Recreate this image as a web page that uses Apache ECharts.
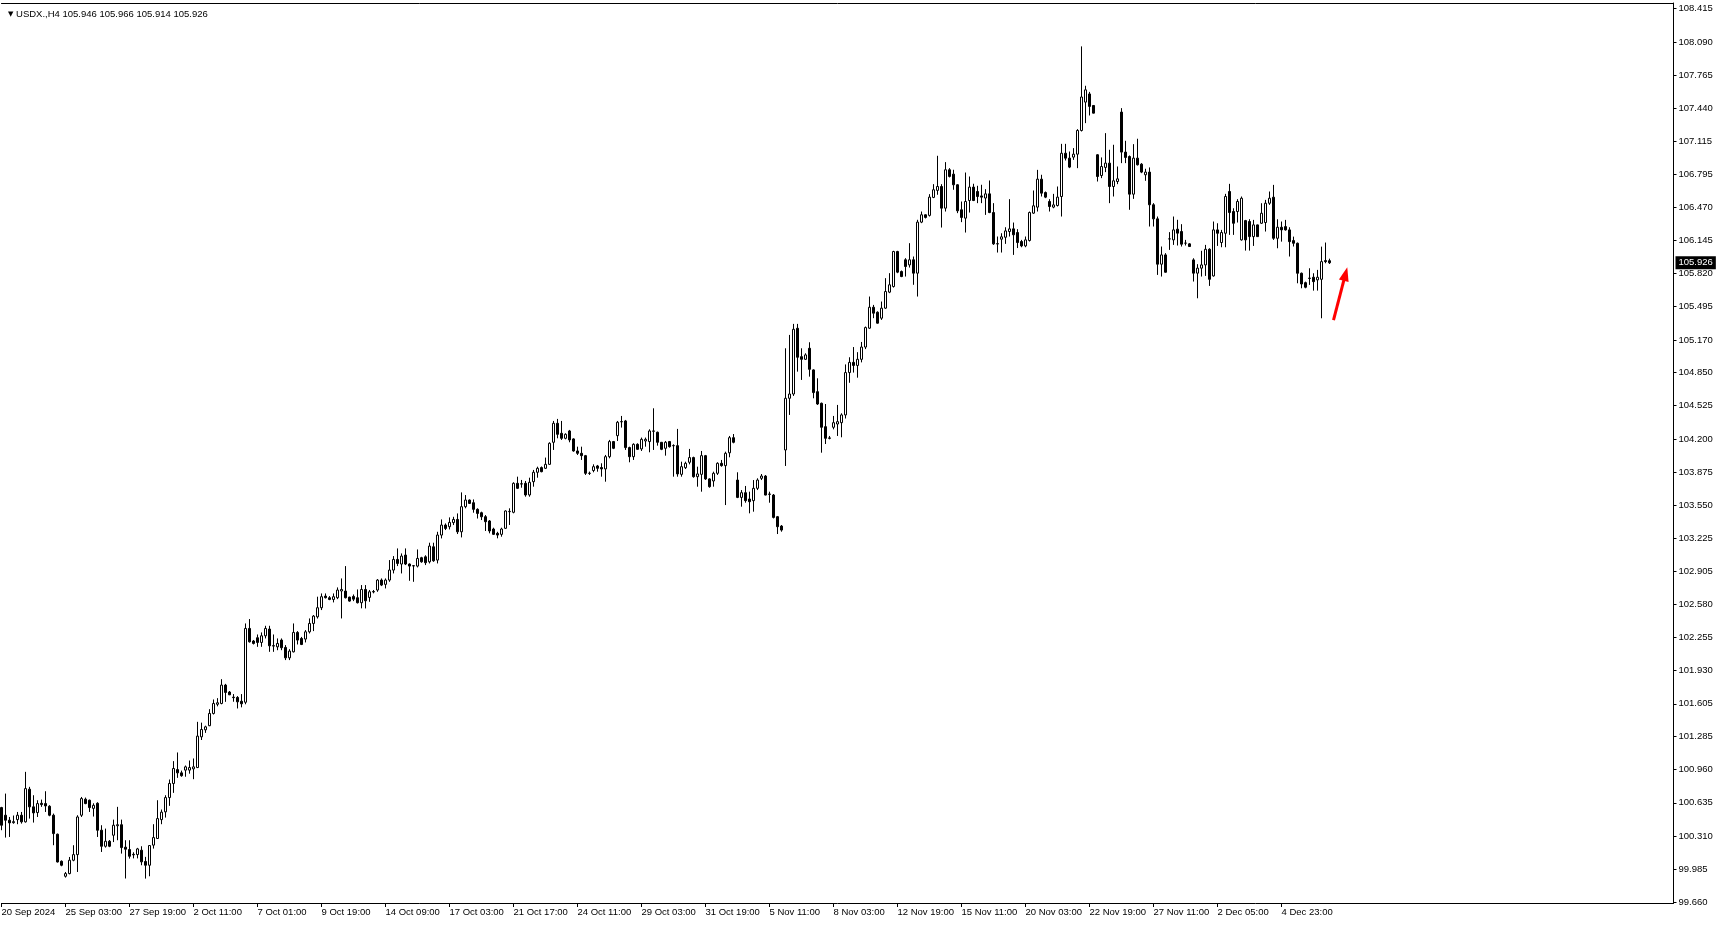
<!DOCTYPE html>
<html><head><meta charset="utf-8">
<script src="https://cdn.jsdelivr.net/npm/echarts@6/dist/echarts.min.js"></script>
<style>html,body{margin:0;padding:0;background:#fff;}#c{width:1720px;height:925px;}</style>
</head><body><div id="c"></div>
<script>
const symbolName = 'USDX.,H4';
const xLabels = ['20 Sep 2024','25 Sep 03:00','27 Sep 19:00','2 Oct 11:00','7 Oct 01:00','9 Oct 19:00','14 Oct 09:00','17 Oct 03:00','21 Oct 17:00','24 Oct 11:00','29 Oct 03:00','31 Oct 19:00','5 Nov 11:00','8 Nov 03:00','12 Nov 19:00','15 Nov 11:00','20 Nov 03:00','22 Nov 19:00','27 Nov 11:00','2 Dec 05:00','4 Dec 23:00'];
const yTicks = [99.660,99.985,100.310,100.635,100.960,101.285,101.605,101.930,102.255,102.580,102.905,103.225,103.550,103.875,104.200,104.525,104.850,105.170,105.495,105.820,106.145,106.470,106.795,107.115,107.440,107.765,108.090,108.415];
const opens = [
100.588,100.513,100.464,100.440,100.470,100.513,100.448,100.768,100.595,100.539,
100.630,100.627,100.601,100.513,100.327,100.062,99.915,99.941,100.072,100.127,
100.513,100.670,100.660,100.580,100.630,100.366,100.209,100.258,100.317,100.410,
100.420,100.200,100.177,100.130,100.128,100.170,100.060,100.023,100.220,100.285,
100.470,100.546,100.686,100.824,100.960,100.928,100.955,100.955,100.967,100.980,
101.281,101.350,101.390,101.510,101.600,101.608,101.788,101.720,101.670,101.667,
101.630,101.620,102.343,102.220,102.252,102.206,102.271,102.337,102.170,102.163,
102.229,102.157,102.055,102.114,102.304,102.245,102.239,102.310,102.392,102.457,
102.546,102.660,102.644,102.627,102.644,102.710,102.709,102.650,102.657,102.644,
102.595,102.725,102.647,102.700,102.719,102.817,102.775,102.817,102.915,103.019,
102.974,103.062,102.974,102.955,102.954,103.036,103.045,102.996,103.143,103.013,
103.258,103.356,103.340,103.380,103.411,103.290,103.536,103.601,103.575,103.510,
103.477,103.438,103.396,103.317,103.275,103.265,103.324,103.487,103.481,103.765,
103.760,103.765,103.651,103.781,103.873,103.919,103.912,103.951,104.167,104.353,
104.255,104.206,104.278,104.200,104.082,104.059,104.036,103.862,103.890,103.935,
103.920,103.906,104.026,104.174,104.232,104.367,104.376,104.115,104.026,104.147,
104.102,104.180,104.174,104.275,104.265,104.167,104.108,104.174,104.133,104.134,
103.853,103.918,103.971,104.017,103.830,103.853,104.036,103.808,103.788,103.863,
103.961,103.938,104.064,104.212,103.797,103.627,103.673,103.611,103.595,103.716,
103.814,103.836,103.660,103.650,103.438,103.346,104.092,104.598,104.640,105.284,
105.006,104.980,105.088,104.876,104.663,104.549,104.320,104.210,104.314,104.346,
104.359,104.435,104.850,104.950,104.920,104.980,105.100,105.285,105.490,105.441,
105.383,105.481,105.638,105.693,106.036,105.840,105.955,105.905,105.955,105.824,
106.324,106.396,106.390,106.566,106.635,106.673,106.461,106.837,106.794,106.690,
106.445,106.363,106.536,106.667,106.624,106.581,106.560,106.601,106.418,106.110,
106.157,106.176,106.232,106.258,106.222,106.134,106.091,106.144,106.412,106.471,
106.745,106.614,106.526,106.471,106.487,106.575,106.999,106.951,106.961,106.990,
107.222,107.500,107.580,107.467,106.984,106.781,106.860,106.902,106.673,106.722,
107.402,107.010,106.967,106.598,106.951,106.892,106.788,106.814,106.494,106.356,
105.912,106.003,106.160,106.150,106.255,106.232,106.118,106.111,105.954,105.824,
105.873,105.905,106.058,105.797,106.248,106.124,106.215,106.624,106.428,106.428,
106.150,106.339,106.330,106.182,106.297,106.313,106.320,106.509,106.568,106.166,
106.274,106.280,106.248,106.143,106.117,105.823,105.731,105.772,105.784,105.758,
105.764,105.947,105.946];
const highs = [
100.595,100.725,100.496,100.510,100.545,100.545,100.938,100.791,100.709,100.660,
100.666,100.748,100.611,100.529,100.333,100.070,99.957,100.104,100.219,100.513,
100.692,100.686,100.666,100.630,100.640,100.415,100.382,100.270,100.470,100.595,
100.470,100.268,100.268,100.150,100.193,100.209,100.105,100.220,100.425,100.660,
100.569,100.709,100.863,101.043,101.128,100.950,101.000,101.049,101.069,101.428,
101.420,101.390,101.552,101.647,101.660,101.846,101.800,101.730,101.700,101.680,
101.700,102.392,102.435,102.230,102.284,102.304,102.369,102.369,102.284,102.245,
102.245,102.180,102.140,102.392,102.317,102.260,102.327,102.441,102.474,102.654,
102.686,102.686,102.660,102.686,102.745,102.833,102.954,102.654,102.676,102.725,
102.768,102.768,102.720,102.720,102.827,102.833,102.833,103.013,103.052,103.127,
103.078,103.127,102.980,102.964,103.117,103.045,103.060,103.183,103.183,103.290,
103.411,103.372,103.431,103.437,103.470,103.676,103.650,103.607,103.607,103.520,
103.487,103.454,103.405,103.330,103.290,103.330,103.500,103.520,103.775,103.830,
103.798,103.788,103.820,103.896,103.928,103.930,104.017,104.167,104.376,104.396,
104.376,104.255,104.288,104.206,104.124,104.124,104.043,103.880,103.951,103.945,
103.961,104.043,104.190,104.180,104.376,104.425,104.386,104.124,104.157,104.157,
104.213,104.213,104.294,104.500,104.272,104.170,104.180,104.180,104.147,104.298,
103.977,103.977,104.102,104.026,103.928,104.082,104.043,103.814,103.879,103.971,
103.994,104.075,104.229,104.248,103.873,103.699,103.739,103.683,103.797,103.814,
103.856,103.846,103.683,103.660,103.445,103.356,105.088,105.219,105.327,105.327,
105.088,105.039,105.147,104.882,104.794,104.556,104.542,104.229,104.425,104.533,
104.451,104.930,105.000,105.100,105.050,105.150,105.301,105.595,105.513,105.450,
105.546,105.775,105.824,106.043,106.043,105.850,105.971,106.118,105.987,106.347,
106.428,106.400,106.598,106.696,106.974,106.696,106.912,106.853,106.837,106.696,
106.526,106.810,106.771,106.700,106.680,106.690,106.647,106.732,106.510,106.183,
106.215,106.274,106.549,106.320,106.255,106.150,106.183,106.428,106.634,106.836,
106.788,106.624,106.549,106.601,106.673,107.091,107.091,107.016,107.049,107.235,
108.046,107.660,107.600,107.470,106.990,106.958,107.196,107.033,107.082,106.869,
107.441,107.121,106.977,107.088,107.141,106.902,106.847,106.860,106.510,106.379,
106.085,106.020,106.226,106.379,106.347,106.304,106.150,106.118,105.970,105.912,
106.043,106.101,106.068,106.330,106.313,106.248,106.601,106.699,106.460,106.549,
106.575,106.346,106.353,106.346,106.300,106.509,106.542,106.624,106.689,106.352,
106.330,106.346,106.274,106.182,106.124,105.830,105.741,105.872,105.823,105.856,
106.084,106.124,105.966];
const lows = [
100.366,100.294,100.300,100.430,100.425,100.431,100.441,100.480,100.441,100.496,
100.595,100.545,100.503,100.219,100.050,100.013,99.902,99.934,100.062,99.957,
100.496,100.621,100.545,100.500,100.300,100.153,100.196,100.200,100.250,100.268,
100.137,99.893,100.088,100.090,100.090,100.023,99.892,99.915,100.186,100.280,
100.425,100.490,100.605,100.732,100.879,100.890,100.890,100.920,100.866,100.975,
101.250,101.320,101.386,101.500,101.580,101.600,101.624,101.690,101.625,101.559,
101.570,101.600,102.205,102.186,102.163,102.163,102.245,102.114,102.114,102.130,
102.130,102.033,102.033,102.108,102.186,102.180,102.206,102.294,102.317,102.440,
102.523,102.637,102.620,102.598,102.630,102.441,102.637,102.605,102.611,102.588,
102.540,102.539,102.604,102.687,102.702,102.758,102.735,102.800,102.882,102.954,
102.882,102.964,102.810,102.800,102.941,102.987,102.964,102.980,102.996,102.980,
103.225,103.307,103.313,103.356,103.268,103.235,103.520,103.562,103.477,103.420,
103.405,103.298,103.275,103.260,103.226,103.242,103.318,103.357,103.471,103.709,
103.722,103.634,103.634,103.732,103.820,103.873,103.905,103.945,104.092,104.206,
104.190,104.196,104.167,104.075,104.043,103.994,103.847,103.847,103.873,103.879,
103.830,103.781,104.010,104.100,104.180,104.311,104.092,103.971,103.994,104.092,
104.082,104.124,104.069,104.092,104.134,104.090,104.036,104.115,103.830,103.830,
103.830,103.905,103.951,103.820,103.732,103.683,103.798,103.722,103.732,103.847,
103.928,103.552,104.020,104.157,103.620,103.536,103.575,103.471,103.487,103.699,
103.797,103.647,103.575,103.421,103.268,103.291,103.935,104.435,104.621,104.859,
104.778,104.974,104.810,104.598,104.533,104.065,104.150,104.196,104.294,104.229,
104.216,104.400,104.750,104.850,104.800,104.950,105.080,105.278,105.383,105.330,
105.366,105.474,105.628,105.683,105.824,105.785,105.791,105.879,105.710,105.595,
106.314,106.360,106.379,106.559,106.592,106.271,106.428,106.762,106.641,106.412,
106.324,106.222,106.418,106.530,106.510,106.510,106.395,106.412,106.101,106.026,
106.026,106.111,106.183,106.003,106.070,106.078,106.078,106.134,106.405,106.428,
106.575,106.559,106.428,106.460,106.477,106.379,106.928,106.853,106.934,106.853,
107.212,107.294,107.369,107.390,106.722,106.755,106.814,106.510,106.575,106.696,
106.902,106.902,106.445,106.552,106.879,106.804,106.729,106.281,106.281,105.807,
105.791,105.830,106.052,106.101,106.095,106.085,106.095,106.082,105.742,105.578,
105.791,105.797,105.699,105.790,106.091,106.078,106.078,106.199,106.199,106.320,
106.143,106.045,106.045,106.091,106.180,106.307,106.232,106.493,106.150,106.068,
106.133,106.241,105.987,106.085,105.725,105.676,105.676,105.709,105.653,105.653,
105.382,105.921,105.914];
const closes = [
100.415,100.464,100.438,100.450,100.513,100.448,100.774,100.595,100.536,100.627,
100.617,100.604,100.513,100.333,100.055,100.023,99.941,100.072,100.127,100.496,
100.676,100.627,100.588,100.610,100.366,100.209,100.258,100.209,100.415,100.420,
100.196,100.180,100.111,100.125,100.183,100.056,100.023,100.216,100.294,100.480,
100.543,100.686,100.824,100.971,100.928,100.900,100.987,100.980,100.987,101.288,
101.353,101.379,101.510,101.608,101.615,101.788,101.716,101.693,101.665,101.624,
101.605,102.343,102.212,102.196,102.206,102.271,102.343,102.173,102.175,102.196,
102.154,102.055,102.121,102.304,102.229,102.186,102.310,102.392,102.464,102.546,
102.654,102.644,102.627,102.654,102.719,102.725,102.644,102.611,102.630,102.595,
102.725,102.614,102.702,102.705,102.817,102.768,102.817,102.915,103.019,102.980,
103.052,102.974,102.954,102.958,103.029,102.996,102.987,103.150,103.006,103.258,
103.356,103.323,103.382,103.411,103.290,103.536,103.601,103.568,103.510,103.470,
103.437,103.389,103.298,103.265,103.258,103.317,103.494,103.490,103.765,103.716,
103.758,103.651,103.775,103.873,103.912,103.879,103.951,104.157,104.353,104.245,
104.206,104.245,104.190,104.082,104.059,104.036,103.863,103.864,103.928,103.912,
103.906,104.026,104.174,104.108,104.363,104.370,104.115,104.026,104.147,104.098,
104.196,104.196,104.278,104.278,104.167,104.098,104.167,104.124,104.135,103.857,
103.928,103.961,104.017,103.830,103.857,104.036,103.808,103.732,103.863,103.961,
103.938,104.059,104.212,104.167,103.627,103.673,103.595,103.585,103.716,103.797,
103.836,103.650,103.657,103.431,103.340,103.307,104.598,104.640,105.274,105.000,
104.980,105.023,104.882,104.654,104.542,104.314,104.206,104.206,104.359,104.369,
104.435,104.850,104.950,104.920,104.980,105.100,105.291,105.490,105.432,105.334,
105.481,105.644,105.710,106.036,105.834,105.791,105.889,105.955,105.824,106.324,
106.396,106.370,106.569,106.641,106.673,106.461,106.837,106.772,106.690,106.435,
106.370,106.526,106.667,106.536,106.575,106.569,106.601,106.418,106.111,106.113,
106.180,106.238,106.258,106.200,106.124,106.091,106.150,106.418,106.484,106.745,
106.608,106.569,106.477,106.493,106.569,106.999,106.951,106.863,106.990,107.222,
107.550,107.620,107.458,107.392,106.771,106.869,106.902,106.673,106.729,106.748,
107.010,106.958,106.598,106.951,106.886,106.814,106.814,106.494,106.356,105.912,
106.003,105.833,106.160,106.248,106.216,106.108,106.118,106.085,105.824,105.873,
105.905,106.058,105.764,106.248,106.215,106.222,106.575,106.418,106.313,106.526,
106.558,106.150,106.182,106.297,106.182,106.411,106.509,106.558,106.166,106.274,
106.248,106.248,106.133,106.117,105.823,105.718,105.686,105.776,105.741,105.784,
105.937,105.937,105.926];
const arrowStart = [333, 105.365];
const arrowEnd = [336, 105.816];

const SLOTS = 419;
const cats = Array.from({length: SLOTS}, (_, i) => String(i));
const candles = opens.map((o, i) => [o, closes[i], lows[i], highs[i]]);
const n = opens.length;
const last = n - 1;
const fmt = v => v.toFixed(3);
const FONT = "'Liberation Sans', Arial, sans-serif";
const showIdx = idx => idx % 16 === 0 && idx / 16 < xLabels.length;

const chart = echarts.init(document.getElementById('c'), null, {renderer: 'canvas'});
chart.setOption({
  animation: false,
  backgroundColor: '#ffffff',
  title: {
    left: 3, top: 4,
    text: '{t|▼} ' + symbolName + ' ' + [opens[last], highs[last], lows[last], closes[last]].map(fmt).join(' '),
    textStyle: {fontFamily: FONT, fontSize: 9.5, fontWeight: 'normal', color: '#000',
      rich: {t: {fontSize: 7, color: '#000', fontFamily: 'DejaVu Sans'}}}
  },
  grid: {left: 1.5, right: 46.5, top: 3, bottom: 22, containLabel: false, outerBoundsMode: 'none'},
  xAxis: [{
    type: 'category', data: cats, boundaryGap: false,
    axisLine: {show: true, lineStyle: {color: '#000', width: 1}},
    axisTick: {show: true, interval: showIdx, length: 4, lineStyle: {color: '#000'}},
    axisLabel: {show: true, interval: showIdx, align: 'left', margin: 4,
      formatter: (v, idx) => xLabels[Math.round(Number(v) / 16)] || '',
      fontFamily: FONT, fontSize: 9.5, color: '#000'},
    splitLine: {show: false}
  }, {
    type: 'category', data: cats, boundaryGap: false, position: 'top',
    axisLine: {show: true, lineStyle: {color: '#000', width: 1}},
    axisTick: {show: false}, axisLabel: {show: false}, splitLine: {show: false}
  }],
  yAxis: {
    type: 'value', position: 'right', min: 99.653, max: 108.471, scale: true,
    axisLine: {show: true, lineStyle: {color: '#000', width: 1}},
    axisTick: {show: true, customValues: yTicks, length: 3, lineStyle: {color: '#000'}},
    axisLabel: {show: true, customValues: yTicks, formatter: v => fmt(v), margin: 5,
      fontFamily: FONT, fontSize: 9.5, color: '#000'},
    splitLine: {show: false}
  },
  series: [{
    type: 'candlestick',
    data: candles,
    barWidth: 2,
    clip: true,
    itemStyle: {color: '#ffffff', color0: '#000000', borderColor: '#000000', borderColor0: '#000000', borderWidth: 1},
    emphasis: {disabled: true},
    markLine: {
      silent: true, animation: false, symbol: 'none',
      data: [
        [{coord: [0, closes[last]], symbol: 'none', lineStyle: {color: 'rgba(0,0,0,0)', width: 1, opacity: 1},
          label: {show: true, position: 'end', distance: 2, formatter: fmt(closes[last]),
            backgroundColor: '#000', color: '#fff', padding: [2, 3, 1, 3],
            fontFamily: FONT, fontSize: 9.5}},
         {coord: [SLOTS - 1, closes[last]], symbol: 'none'}],
        [{coord: arrowStart, symbol: 'none', lineStyle: {color: '#ff0000', width: 3, type: 'solid', opacity: 1}, label: {show: false}},
         {coord: arrowEnd, symbol: 'triangle', symbolSize: [10, 14]}]
      ]
    }
  }]
});
</script>
</body></html>
